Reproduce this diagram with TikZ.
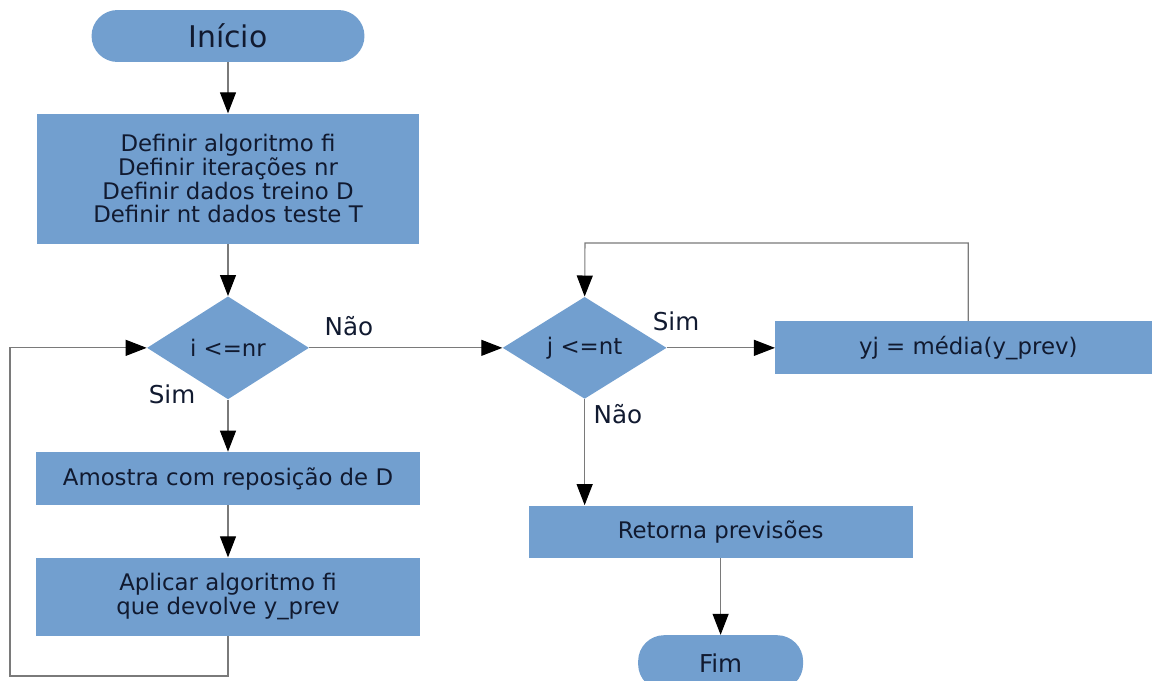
\documentclass[tikz,border=0pt]{standalone}
\usepackage{fontspec}
\setmainfont{DejaVu Sans}
\usepackage{tikz}
\usetikzlibrary{arrows.meta, positioning, shapes.geometric}

\definecolor{flowblue}{HTML}{729FCF}
\definecolor{inkc}{HTML}{111A30}
\definecolor{linec}{HTML}{7A7A7A}

\begin{document}
\begin{tikzpicture}[
  x=0.02cm, y=-0.02cm,
  box/.style={rectangle, fill=flowblue, text=inkc, inner sep=2pt,
              font=\fontsize{13}{13.5}\selectfont, align=center},
  term/.style={box, rounded corners=0.52cm},
  dec/.style={diamond, fill=flowblue, text=inkc, inner sep=0pt,
              font=\fontsize{13}{13.5}\selectfont},
  lbl/.style={text=inkc, font=\fontsize{14}{14}\selectfont},
  arr/.style={-{Triangle[length=0.42cm, width=0.32cm, color=black]},
              draw=linec, line width=0.6pt},
  node distance=1.04cm and 3.86cm
]
  \useasboundingbox (0,0) rectangle (1152,680);

  % Left column
  \node[term, minimum width=5.46cm, minimum height=1.04cm,
        font=\fontsize{17}{17}\selectfont]
        (start) at (228,36) {Início};
  \node[box, minimum width=7.66cm, minimum height=2.6cm, below=1.02cm of start]
        (defs) {Definir algoritmo fi\\Definir iterações nr\\Definir dados treino D\\Definir nt dados teste T};
  \node[dec, minimum width=3.24cm, minimum height=2.06cm, below=of defs]
        (dec1) {i <=nr};
  \node[box, minimum width=7.7cm, minimum height=1.06cm, below=of dec1]
        (amostra) {Amostra com reposição de D};
  \node[box, minimum width=7.7cm, minimum height=1.56cm, below=of amostra]
        (aplicar) {Aplicar algoritmo fi\\que devolve y\_prev};

  % Right part
  \node[dec, minimum width=3.28cm, minimum height=2.04cm, right=of dec1]
        (dec2) {j <=nt};
  \node[box, minimum width=7.72cm, minimum height=1.06cm, right=2.16cm of dec2]
        (media) {yj = média(y\_prev)};
  \node[box, minimum width=7.68cm, minimum height=1.04cm, below=2.12cm of dec2,
        xshift=2.72cm]
        (retorna) {Retorna previsões};
  \node[term, minimum width=3.3cm, minimum height=1.1cm, below=1.54cm of retorna,
        font=\fontsize{14}{14}\selectfont]
        (fim) {Fim};

  % Labels
  \node[lbl] (nao1) at (349,326) {Não};
  \node[lbl] (sim1) at (172,394) {Sim};
  \node[lbl] (sim2) at (676,321) {Sim};
  \node[lbl] (nao2) at (618,414) {Não};

  % Loop corners
  \coordinate (lb) at (10,676);
  \coordinate (tp) at (585,243);

  % Arrows
  \draw[arr] (start) -- (defs);
  \draw[arr] (defs) -- (dec1);
  \draw[arr] (dec1) -- (amostra);
  \draw[arr] (amostra) -- (aplicar);
  \draw[arr] (aplicar.south) |- (lb) |- (dec1.west);
  \draw[arr] (dec1) -- (dec2);
  \draw[arr] (dec2) -- (media);
  \draw[arr] (media.north) |- (tp) -- (dec2.north);
  \draw[arr] (dec2.south) -- (dec2.south |- retorna.north);
  \draw[arr] (retorna) -- (fim);
\end{tikzpicture}
\end{document}
